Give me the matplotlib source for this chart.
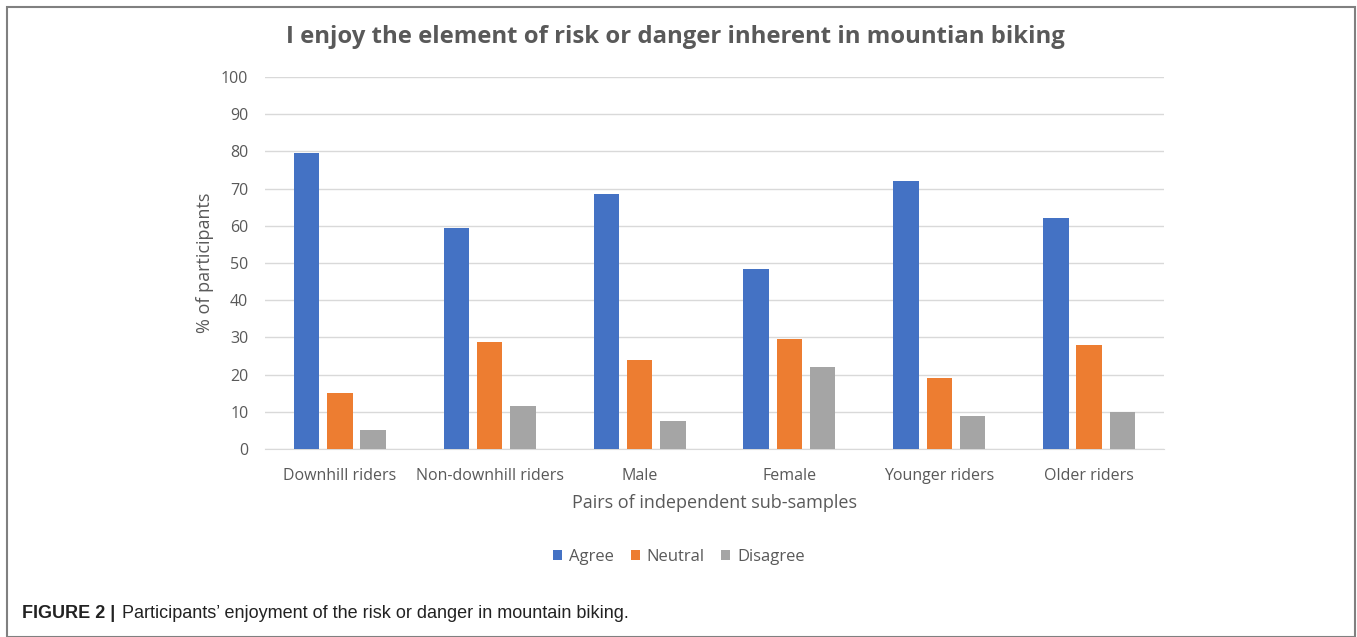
import numpy as np
import matplotlib.pyplot as plt
from matplotlib.patches import Rectangle

categories = ["Downhill riders", "Non-downhill riders", "Male", "Female",
              "Younger riders", "Older riders"]
agree = [79.6, 59.4, 68.5, 48.5, 72.0, 62.2]
neutral = [15.1, 28.8, 24.0, 29.7, 19.0, 28.0]
disagree = [5.1, 11.6, 7.5, 22.0, 8.8, 10.0]
series_names = ["Agree", "Neutral", "Disagree"]
colors = ["#4472C4", "#ED7D31", "#A5A5A5"]
yticks = list(range(0, 101, 10))

TXT = "#595959"
W, H = 1357, 637

plt.rcParams["font.family"] = ["Open Sans", "DejaVu Sans"]

fig = plt.figure(figsize=(W / 100, H / 100), dpi=100)
ax = fig.add_axes([265 / W, 1 - 449 / H, (1164 - 265) / W, (449 - 77) / H])

x = np.arange(len(categories))
bw = 0.17
step = 0.222
for k, (vals, name, c) in enumerate(zip([agree, neutral, disagree], series_names, colors)):
    ax.bar(x + (k - 1) * step, vals, width=bw, color=c, label=name, zorder=3)

ax.set_xlim(-0.5, len(categories) - 0.5)
ax.set_ylim(0, 100)
ax.set_yticks(yticks)
ax.yaxis.grid(True, color="#D9D9D9", lw=1, zorder=0)
for s in ["top", "right", "left"]:
    ax.spines[s].set_visible(False)
ax.spines["bottom"].set_color("#D9D9D9")
ax.tick_params(axis="both", length=0, labelsize=11.5, labelcolor=TXT)
ax.tick_params(axis="y", pad=12)
ax.tick_params(axis="x", pad=14)
ax.set_xticks(x)
ax.set_xticklabels(categories)

ax.set_ylabel("% of participants", fontsize=13, color=TXT, labelpad=5)
ax.set_xlabel("Pairs of independent sub-samples", fontsize=13, color=TXT, labelpad=7)

fig.text(675 / W, 1 - 37 / H, "I enjoy the element of risk or danger inherent in mountian biking",
         ha="center", va="center", fontsize=17.2, fontweight="bold", color=TXT)

leg = ax.legend(loc="center", bbox_to_anchor=(679 / W, 1 - 557 / H),
                bbox_transform=fig.transFigure, ncol=3, frameon=False,
                fontsize=12, handlelength=0.55, handleheight=0.55,
                handletextpad=0.4, columnspacing=1.0)
for t in leg.get_texts():
    t.set_color(TXT)

# caption and outer frame
cap_font = ["Liberation Sans", "DejaVu Sans"]
fig.text(22 / W, 1 - 614 / H, "FIGURE 2 |", ha="left", va="center",
         fontsize=13, fontweight="bold", family=cap_font, color="#222222")
fig.text(122 / W, 1 - 614 / H, "Participants’ enjoyment of the risk or danger in mountain biking.",
         ha="left", va="center", fontsize=13, family=cap_font, color="#222222")
fig.patches.append(Rectangle((7 / W, 0), (1355 - 7) / W, 1 - 7 / H, transform=fig.transFigure,
                             fill=False, edgecolor="#808080", lw=1.5))

fig.savefig("out.png", dpi=100)
